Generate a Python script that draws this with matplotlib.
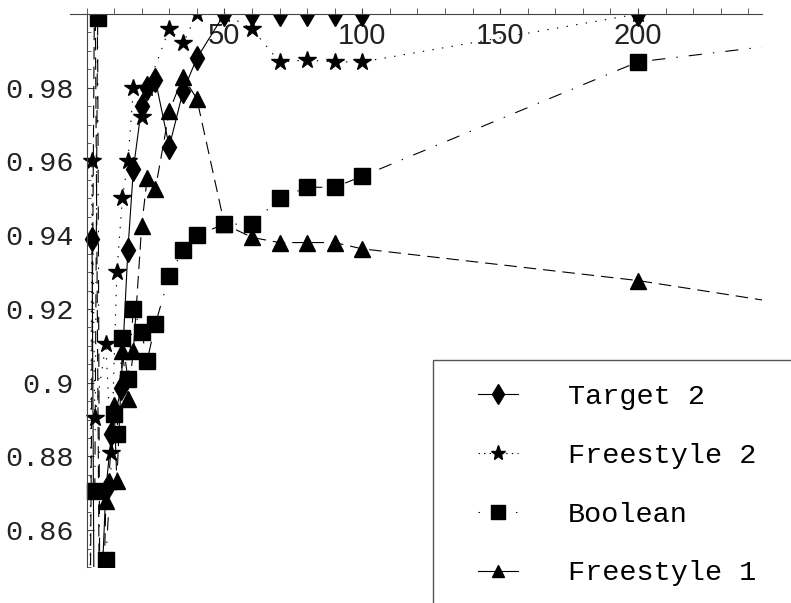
import matplotlib
matplotlib.use("Agg")
import matplotlib.pyplot as plt
from matplotlib.lines import Line2D
from matplotlib.patches import Rectangle
from matplotlib.ticker import FixedLocator, FixedFormatter, MultipleLocator

plt.rcParams["lines.scale_dashes"] = False

# values
target2_x = [2, 3, 7, 9, 12.5, 15, 17, 20, 22, 25, 30, 35, 40, 50, 60, 70, 80, 90, 100, 200]
target2_y = [0.939, 0.80, 0.871, 0.886, 0.8986, 0.936, 0.958, 0.975, 0.980, 0.982, 0.964,
             0.979, 0.988, 1.0, 1.0, 1.0, 1.0, 1.0, 1.0, 1.0]

free2_x = [1, 2, 3, 7, 9, 11, 13, 15, 17, 20, 22, 30, 35, 40, 50, 60, 70, 80, 90, 100, 200]
free2_y = [0.80, 0.960, 0.8905, 0.9105, 0.8808, 0.930, 0.950, 0.960, 0.980, 0.972, 0.980,
           0.996, 0.992, 1.0, 1.0, 0.996, 0.987, 0.9875, 0.987, 0.987, 1.0]

bool_x = [3, 4, 5, 7, 10, 11, 13, 15, 17, 20, 22, 25, 30, 35, 40, 50, 60, 70, 80, 90, 100, 200, 300]
bool_y = [0.8705, 0.999, 0.80, 0.852, 0.8916, 0.886, 0.912, 0.901, 0.920, 0.9137, 0.906, 0.916,
          0.929, 0.936, 0.940, 0.943, 0.943, 0.950, 0.953, 0.953, 0.956, 0.987, 0.996]

free1_x = [1, 3, 5, 7, 8, 10, 11, 13, 15, 17, 20, 22, 25, 30, 35, 40, 50, 60, 70, 80, 90, 100, 200, 300]
free1_y = [0.80, 1.02, 0.80, 0.868, 0.8733, 0.894, 0.8733, 0.9085, 0.8957, 0.9087, 0.9425, 0.9556,
           0.9526, 0.9736, 0.983, 0.977, 0.943, 0.9394, 0.938, 0.938, 0.938, 0.9363, 0.9277, 0.916]

x_major = [50, 100, 150, 200]
y_major = [0.86, 0.88, 0.90, 0.92, 0.94, 0.96, 0.98]
y_labels = ["0.86", "0.88", "0.9", "0.92", "0.94", "0.96", "0.98"]

mono = ["Liberation Mono", "DejaVu Sans Mono"]
sans = ["Liberation Sans", "DejaVu Sans"]

fig = plt.figure(figsize=(7.91, 6.03), dpi=100)
ax = fig.add_axes([70 / 791, 36 / 603, 692 / 791, 553 / 603])

lw = 0.8
dash_f1 = (0, (9, 5))
dash_bool = (0, (9.5, 8, 1, 8))
dot_f2 = (0, (1, 6))

ax.plot(free1_x, free1_y, color="black", lw=lw, linestyle=dash_f1,
        marker="^", markersize=11, label="Freestyle 1")
ax.plot(free2_x, free2_y, color="black", lw=lw, linestyle=dot_f2,
        marker="*", markersize=13, label="Freestyle 2")
ax.plot(target2_x, target2_y, color="black", lw=lw, linestyle="-",
        marker="d", markersize=12, label="Target 2")
ax.plot(bool_x, bool_y, color="black", lw=lw, linestyle=dash_bool,
        marker="s", markersize=11, label="Boolean")

ax.set_xlim(-6, 245)
ax.set_ylim(0.85, 1.0)

for side in ["bottom", "right"]:
    ax.spines[side].set_visible(False)
ax.spines["left"].set_position(("data", 0))
ax.spines["left"].set_color("#444444")
ax.spines["top"].set_color("#444444")

ax.xaxis.tick_top()
ax.xaxis.set_major_locator(FixedLocator(x_major))
ax.xaxis.set_minor_locator(MultipleLocator(10))
ax.tick_params(axis="x", which="both", direction="out", length=4, color="#444444",
               pad=-30, labelsize=21)
for t in ax.get_xticklabels():
    t.set_family(sans)
    t.set_color("#222222")

ax.yaxis.set_major_locator(FixedLocator(y_major))
ax.yaxis.set_major_formatter(FixedFormatter(y_labels))
ax.yaxis.set_minor_locator(MultipleLocator(0.005))
ax.tick_params(axis="y", which="major", direction="in", length=5, color="#444444",
               pad=9, labelsize=20.5)
ax.tick_params(axis="y", which="minor", direction="in", length=3, color="#444444")
for t in ax.get_yticklabels():
    t.set_family(mono)
    t.set_color("#222222")

# legend box runs past the figure edge
fig.patches.append(Rectangle((433 / 791, -0.2), 0.6, 1.2 - 360 / 603,
                             transform=fig.transFigure, facecolor="white",
                             edgecolor="#555555", lw=1, clip_on=False, zorder=5))

handles = [
    Line2D([], [], color="black", lw=lw, linestyle="-", marker="d", markersize=10),
    Line2D([], [], color="black", lw=lw, linestyle=(0, (1, 3)), marker="*", markersize=11),
    Line2D([], [], color="black", lw=lw, linestyle=(0, (1, 8)), marker="s", markersize=10),
    Line2D([], [], color="black", lw=lw, linestyle="-", marker="^", markersize=9),
]
labels = ["Target 2", "Freestyle 2", "Boolean", "Freestyle 1"]
leg = fig.legend(handles, labels, loc="upper left", bbox_to_anchor=(464 / 791, 1 - 370 / 603),
                 frameon=False, borderpad=0, handlelength=1.4, handletextpad=1.74,
                 labelspacing=1.15, prop={"family": mono, "size": 20.5})
leg.set_zorder(6)

fig.savefig("out.png", dpi=100)
